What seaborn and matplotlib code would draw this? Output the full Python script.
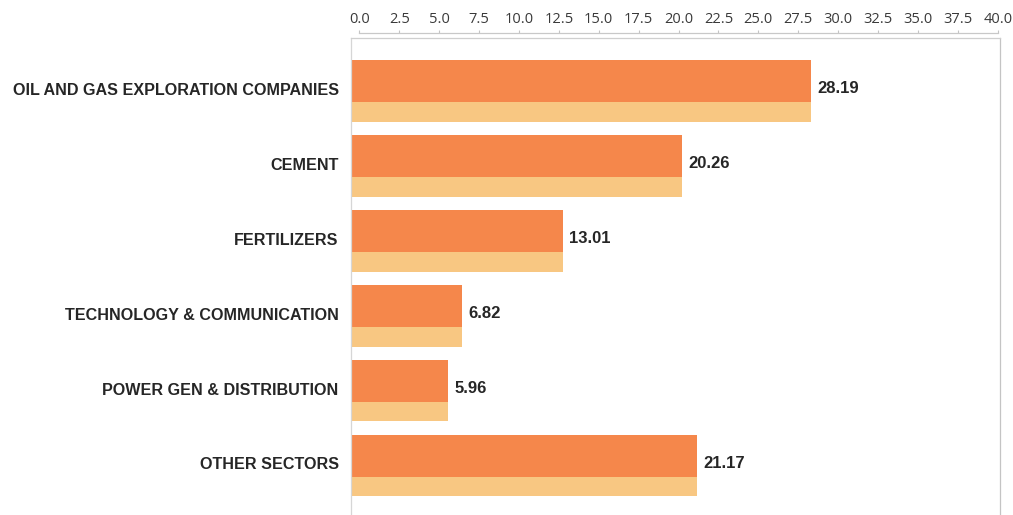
import matplotlib
matplotlib.use("Agg")
import matplotlib.pyplot as plt
import matplotlib.transforms as mtransforms
import seaborn as sns
import pandas as pd

sectors = [
    "OIL AND GAS EXPLORATION COMPANIES",
    "CEMENT",
    "FERTILIZERS",
    "TECHNOLOGY & COMMUNICATION",
    "POWER GEN & DISTRIBUTION",
    "OTHER SECTORS",
]
weights = [28.19, 20.26, 13.01, 6.82, 5.96, 21.17]
scale_ticks = [0.0, 2.5, 5.0, 7.5, 10.0, 12.5, 15.0, 17.5, 20.0,
               22.5, 25.0, 27.5, 30.0, 32.5, 35.0, 37.5, 40.0]

DARK = "#F5874B"
LIGHT = "#F8C782"
TEXT = "#262626"

sns.set_theme(style="white")
plt.rcParams["font.family"] = ["Liberation Sans", "DejaVu Sans"]

df = pd.DataFrame({"sector": sectors, "weight": weights})

W, H = 1013, 515
fig = plt.figure(figsize=(W / 100, H / 100), dpi=100)

# main plotting area (box runs off the bottom edge)
top_px, bot_px = 38, 518.5
left_px, right_px = 350.5, 1000
ax = fig.add_axes([left_px / W, 1 - bot_px / H,
                   (right_px - left_px) / W, (bot_px - top_px) / H])

bar_w = 0.824
sns.barplot(data=df, x="weight", y="sector", orient="h", color=LIGHT,
            saturation=1, width=bar_w, ax=ax)
n_light = len(ax.patches)
sns.barplot(data=df, x="weight", y="sector", orient="h", color=DARK,
            saturation=1, width=bar_w, ax=ax)
# dark band occupies the upper part of each bar
for p in ax.patches[n_light:]:
    p.set_height(0.56)
    p.set_linewidth(0)
for p in ax.patches[:n_light]:
    p.set_linewidth(0)

ax.set_xlim(0, 39.72)
ax.set_ylim(5.708, -0.708)
ax.set_xlabel("")
ax.set_ylabel("")
ax.set_xticks([])
ax.tick_params(axis="y", length=0, pad=8.5, labelsize=11.65, labelcolor=TEXT)
lift = mtransforms.ScaledTranslation(0, 1.5 / 72, fig.dpi_scale_trans)
for lab in ax.get_yticklabels():
    lab.set_fontweight("bold")
    lab.set_transform(lab.get_transform() + lift)

for i, v in enumerate(weights):
    ax.annotate(f"{v:.2f}", xy=(v, i), xytext=(4.5, 1.5),
                textcoords="offset points", ha="left", va="center",
                fontsize=12, fontweight="bold", color=TEXT)

ax.spines["bottom"].set_visible(False)
ax.spines["left"].set_color("#d6d6d6")
ax.spines["top"].set_color("#cfcfcf")
ax.spines["right"].set_color("#c4c4c4")
for s in ("left", "top", "right"):
    ax.spines[s].set_linewidth(0.9)

# value scale drawn along the top
line_px = 33
sx0, sx1 = 359.3, 997.7
ax2 = fig.add_axes([sx0 / W, 1 - line_px / H, (sx1 - sx0) / W, 0.0001])
ax2.set_xlim(0, 40)
ax2.set_yticks([])
ax2.set_xticks(scale_ticks)
ax2.set_xticklabels([f"{t:.1f}" for t in scale_ticks])
ax2.xaxis.tick_top()
ax2.tick_params(axis="x", direction="out", length=2.5, width=0.8,
                color="#c4c4c4", pad=1.5, labelsize=10.5, labelcolor="#3a3a3a")
for lab in ax2.get_xticklabels():
    lab.set_fontfamily(["Open Sans", "DejaVu Sans"])
for s in ("left", "right", "bottom"):
    ax2.spines[s].set_visible(False)
ax2.spines["top"].set_color("#c8c8c8")
ax2.spines["top"].set_linewidth(0.9)
ax2.patch.set_alpha(0)

fig.savefig("out.png", dpi=100)
